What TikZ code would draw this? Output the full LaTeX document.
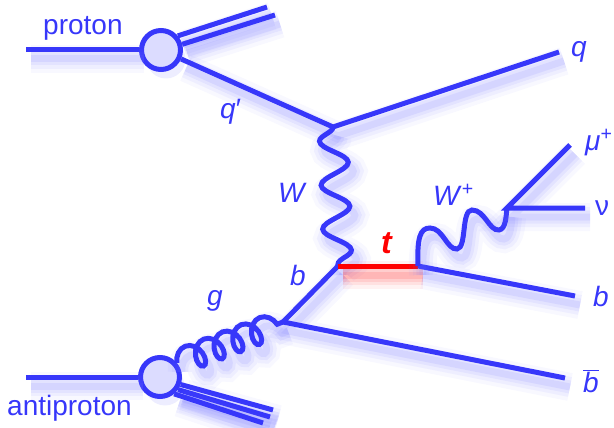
\documentclass[tikz,border=0pt]{standalone}
\usepackage{fontspec}
\setmainfont{Liberation Sans}
\usetikzlibrary{decorations.pathmorphing}

\definecolor{fmblue}{RGB}{55,55,250}
\definecolor{fmglow}{RGB}{110,110,255}
\definecolor{fmfill}{RGB}{220,220,255}
\definecolor{fmred}{RGB}{255,0,0}

\begin{document}
\begin{tikzpicture}[x=1pt,y=-1pt,
  every node/.style={font=\fontsize{28}{34}\selectfont, text=fmblue, inner sep=0pt},
  glow/.style={preaction={draw=#1,line width=28pt,opacity=.05,transform canvas={shift={(5,9)}}},
               preaction={draw=#1,line width=20pt,opacity=.07,transform canvas={shift={(5,9)}}},
               preaction={draw=#1,line width=13pt,opacity=.09,transform canvas={shift={(5,9)}}},
               preaction={draw=#1,line width=7pt,opacity=.11,transform canvas={shift={(5,9)}}}},
  ferm/.style={draw=fmblue,line width=5pt,glow=fmglow},
  photon/.style={ferm,decorate,decoration={snake,amplitude=#1}},
  gluon/.style={ferm,decorate,decoration={coil,amplitude=12.5pt,segment length=20pt,aspect=.7,pre length=0pt,post length=5pt}},
  blob/.style={circle,draw=fmblue,fill=fmfill,line width=5pt,minimum size=39pt,
               preaction={fill=fmglow,opacity=.12,transform canvas={shift={(5,9)}}}}]
  \useasboundingbox (0,0) rectangle (614,428);

  % incoming beams
  \coordinate (pin) at (26,50);
  \coordinate (ain) at (26,377);
  \node[blob] (proton) at (161,50) {};
  \node[blob] (anti) at (160,377) {};

  % spectators
  \coordinate (pj1) at (267,7);
  \coordinate (pj2) at (275,15);
  \coordinate (aj1) at (273,410);
  \coordinate (aj2) at (270,417);
  \coordinate (aj3) at (263,423);

  % vertices and outgoing ends
  \coordinate (vq) at (333,127);
  \coordinate (qout) at (559,52);
  \coordinate (vt1) at (338,266);
  \coordinate (vt2) at (418,266);
  \coordinate (vw) at (507,208);
  \coordinate (muout) at (570,145);
  \coordinate (nuout) at (585,208);
  \coordinate (bout) at (575,296);
  \coordinate (vg) at (283,322);
  \coordinate (bbout) at (565,378);

  \draw[ferm] (pin) -- (proton);
  \draw[ferm] (ain) -- (anti);
  \draw[ferm] (proton.40) -- (pj1);
  \draw[ferm] (proton.15) -- (pj2);
  \draw[ferm] (anti.-20) -- (aj1);
  \draw[ferm] (anti.-35) -- (aj2);
  \draw[ferm] (anti.-50) -- (aj3);

  \draw[ferm] (proton) -- (vq) -- (qout);
  \draw[photon=14pt,decoration={segment length=44pt,mirror}] (vq) -- (vt1);
  \draw[gluon] (anti.40) -- (vg);
  \draw[ferm] (bbout) -- (vg) -- (vt1);
  \draw[draw=fmred,line width=5pt,glow=fmred] (vt1) -- (vt2);
  \draw[ferm] (vt2) -- (bout);
  % W+ drawn by hand
  \draw[ferm] (vt2) .. controls (417,238) and (420,228) .. (430,228)
    .. controls (443,228) and (447,250) .. (457,249)
    .. controls (467,248) and (461,210) .. (472,210)
    .. controls (485,210) and (489,231) .. (499,230)
    .. controls (506,229) and (506,216) .. (vw);
  \draw[ferm] (muout) -- (vw) -- (nuout);

  % labels
  \node[anchor=base west] (lproton) at (43,35) {proton};
  \node[anchor=base west] (lanti) at (7,415) {antiproton};
  \node[anchor=base west] (lqp) at (220,118) {\textit{q}′};
  \node[anchor=base west] (lq) at (571,57) {\textit{q}};
  \node[anchor=base west] (lW) at (278,202) {\textit{W}};
  \node[anchor=base west] (lWp) at (433,205) {\textit{W}\textsuperscript{+}};
  \node[anchor=base west,text=fmred,font=\fontsize{32}{36}\selectfont\bfseries\itshape] (lt) at (381,253) {t};
  \node[anchor=base west] (lmu) at (585,150) {\textit{μ}\textsuperscript{+}};
  \node[anchor=base west] (lnu) at (595,215) {ν};
  \node[anchor=base west] (lb) at (593,306) {\textit{b}};
  \node[anchor=base west] (lbbar) at (583,392) {$\overline{\textit{b}}$};
  \node[anchor=base west] (lg) at (207,305) {\textit{g}};
  \node[anchor=base west] (lbv) at (290,285) {\textit{b}};
\end{tikzpicture}
\end{document}
